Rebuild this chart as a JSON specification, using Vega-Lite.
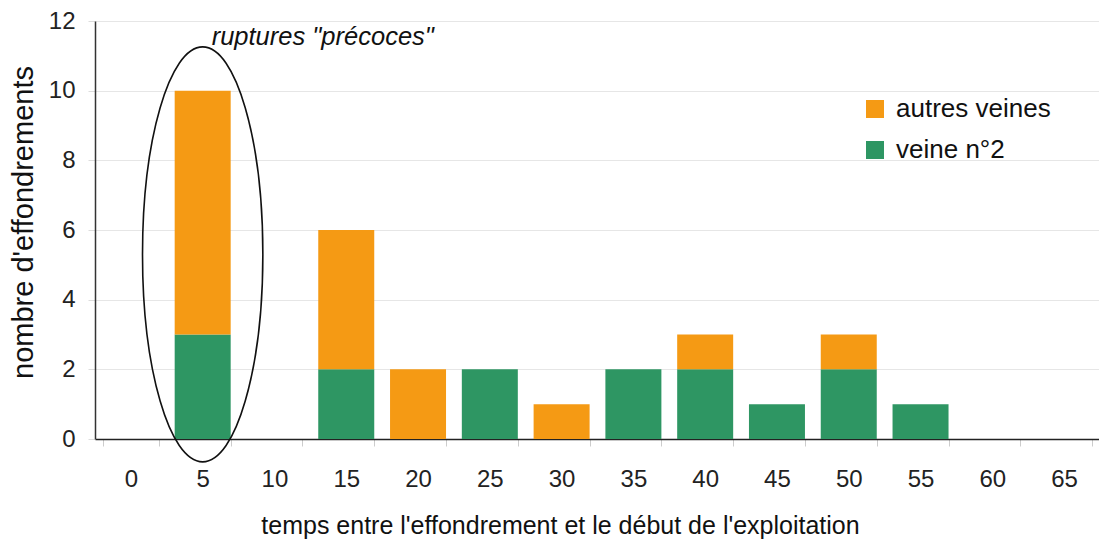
{
  "$schema": "https://vega.github.io/schema/vega-lite/v6.json",
  "width": 1005,
  "height": 418,
  "autosize": {"type": "none"},
  "padding": {"left": 95, "top": 21, "right": 0, "bottom": 102},
  "background": "white",
  "config": {
    "font": "Liberation Sans",
    "view": {"stroke": null}
  },
  "encoding": {
    "x": {
      "field": "t",
      "type": "ordinal",
      "scale": {"domain": [0, 5, 10, 15, 20, 25, 30, 35, 40, 45, 50, 55, 60, 65], "paddingInner": 0.22, "paddingOuter": 0.11},
      "axis": {
        "title": "temps entre l'effondrement et le début de l'exploitation",
        "titleFontSize": 25,
        "titleFontWeight": "normal",
        "titleColor": "#111",
        "titlePadding": 22,
        "titleX": 465,
        "titleAlign": "center",
        "labelAngle": 0,
        "labelFontSize": 24,
        "labelColor": "#222",
        "labelPadding": 21,
        "tickBand": "extent",
        "tickColor": "#cccccc",
        "tickSize": 7,
        "domainColor": "#222",
        "domainWidth": 1.5,
        "grid": false
      }
    },
    "y": {
      "field": "n",
      "type": "quantitative",
      "scale": {"domain": [0, 12]},
      "axis": {
        "title": "nombre d'effondrements",
        "titleFontSize": 29,
        "titleFontWeight": "normal",
        "titleColor": "#111",
        "titlePadding": 10,
        "titleY": 201,
        "titleAlign": "center",
        "values": [0, 2, 4, 6, 8, 10, 12],
        "labelFontSize": 24,
        "labelColor": "#222",
        "labelPadding": 13,
        "tickColor": "#dddddd",
        "tickSize": 7,
        "domainColor": "#333",
        "domainWidth": 1.5,
        "grid": true,
        "gridColor": "#e6e6e6",
        "gridWidth": 1
      }
    }
  },
  "layer": [
    {
      "data": {
        "values": [
          {"t": 5, "serie": "veine n°2", "n": 3},
          {"t": 5, "serie": "autres veines", "n": 7},
          {"t": 15, "serie": "veine n°2", "n": 2},
          {"t": 15, "serie": "autres veines", "n": 4},
          {"t": 20, "serie": "autres veines", "n": 2},
          {"t": 25, "serie": "veine n°2", "n": 2},
          {"t": 30, "serie": "autres veines", "n": 1},
          {"t": 35, "serie": "veine n°2", "n": 2},
          {"t": 40, "serie": "veine n°2", "n": 2},
          {"t": 40, "serie": "autres veines", "n": 1},
          {"t": 45, "serie": "veine n°2", "n": 1},
          {"t": 50, "serie": "veine n°2", "n": 2},
          {"t": 50, "serie": "autres veines", "n": 1},
          {"t": 55, "serie": "veine n°2", "n": 1}
        ]
      },
      "mark": {"type": "bar"},
      "encoding": {
        "color": {
          "field": "serie",
          "type": "nominal",
          "scale": {"domain": ["autres veines", "veine n°2"], "range": ["#F59A14", "#2E9663"]},
          "legend": {
            "title": null,
            "orient": "none",
            "legendX": 767,
            "legendY": 75,
            "padding": 0,
            "symbolType": "square",
            "symbolSize": 324,
            "symbolStrokeWidth": 0,
            "labelFontSize": 26,
            "labelColor": "#111",
            "labelOffset": 8,
            "rowPadding": 15
          }
        },
        "order": {"field": "serie", "sort": "descending"}
      }
    },
    {
      "data": {"values": [{"t": 5, "n": 5.3}]},
      "mark": {
        "type": "point",
        "shape": "M 0 -1 C 0.16 -1 0.29 -0.552 0.29 0 C 0.29 0.552 0.16 1 0 1 C -0.16 1 -0.29 0.552 -0.29 0 C -0.29 -0.552 -0.16 -1 0 -1 Z",
        "size": 172225,
        "filled": false,
        "stroke": "#111",
        "strokeWidth": 1.6,
        "opacity": 1,
        "clip": false
      }
    },
    {
      "data": {"values": [{"t": 5, "n": 11.31, "label": "ruptures \"précoces\""}]},
      "mark": {
        "type": "text",
        "align": "left",
        "baseline": "alphabetic",
        "dx": 9,
        "fontStyle": "italic",
        "fontSize": 25.5,
        "color": "#111"
      },
      "encoding": {"text": {"field": "label"}}
    }
  ]
}
